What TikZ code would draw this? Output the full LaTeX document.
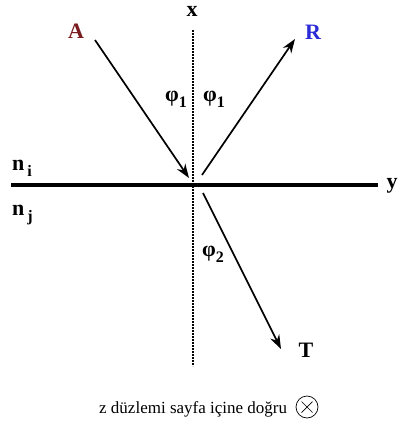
\documentclass[tikz,border=0pt]{standalone}
\usepackage{fontspec}
\setmainfont{Liberation Serif}
\usetikzlibrary{arrows.meta,calc}
\definecolor{acol}{HTML}{7A1B1E}
\definecolor{rcol}{HTML}{2A2AD8}
\tikzset{
  lbl/.style={font=\fontsize{22}{22}\selectfont\bfseries, inner sep=0pt},
  ang/.style={font=\fontsize{22}{22}\selectfont\bfseries, inner sep=0pt},
  ray/.style={line width=1.7pt, -{Stealth[length=14pt,width=10pt]}},
}
\newcommand{\subsc}[1]{\raisebox{-6pt}{\fontsize{16}{16}\selectfont #1}}
\begin{document}
\begin{tikzpicture}[x=1pt,y=-1pt]
\useasboundingbox (0,0) rectangle (398,421);
% axes
\coordinate (xt) at (193,30);
\coordinate (xb) at (193,366);
\coordinate (yl) at (11,185);
\coordinate (yr) at (378,185);
\draw[line width=2pt, dash pattern=on 1.6pt off 1.4pt] (xt) -- (xb);
\draw[line width=3.8pt] (yl) -- (yr);
\node[lbl] (xlab) at (192,11) {x};
\node[lbl] (ylab) at (392,186) {y};
% labels
\node[lbl, text=acol] (A) at (76,31) {A};
\node[lbl, text=rcol] (R) at (313,32) {R};
\node[lbl] (T) at (306,350) {T};
% rays
\coordinate (a0) at (95,40);
\coordinate (a1) at (189,178);
\coordinate (r0) at (202,175);
\coordinate (r1) at (295,39);
\coordinate (t0) at (203,193);
\coordinate (t1) at (281,349);
\draw[ray] (a0) -- (a1);
\draw[ray] (r0) -- (r1);
\draw[ray] (t0) -- (t1);
% angles
\node[ang, anchor=base west] (p1) at (165,101) {φ\subsc{1}};
\node[ang, anchor=base west] (p2) at (203,101) {φ\subsc{1}};
\node[ang, anchor=base west] (p3) at (202,256) {φ\subsc{2}};
% media
\node[lbl, anchor=base west] (ni) at (12,170) {n\hspace{3pt}\subsc{i}};
\node[lbl, anchor=base west] (nj) at (12,215) {n\hspace{3pt}\subsc{j}};
% bottom
\node[inner sep=0pt, anchor=base west, font=\fontsize{17}{17}\selectfont] (zt) at (99,413) {z düzlemi sayfa içine doğru};
\node[draw, circle, line width=0.7pt, minimum size=22pt, inner sep=0pt] (zc) at (307,407) {};
\draw[line width=0.7pt] ($(zc)+(-5.5,-5.5)$) -- ($(zc)+(5.5,5.5)$);
\draw[line width=0.7pt] ($(zc)+(-5.5,5.5)$) -- ($(zc)+(5.5,-5.5)$);
\end{tikzpicture}
\end{document}
